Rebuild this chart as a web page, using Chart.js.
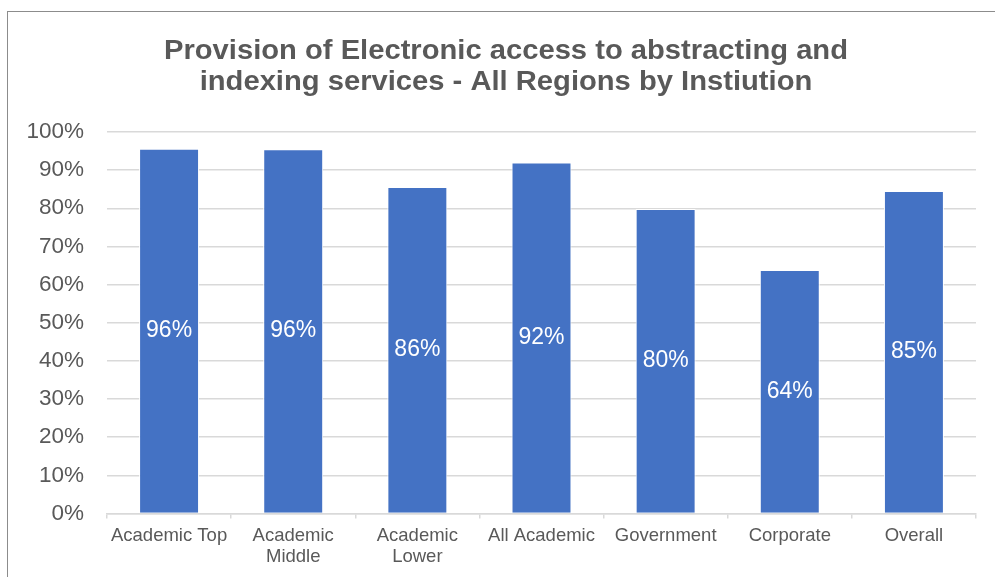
<!DOCTYPE html>
<html>
<head>
<meta charset="utf-8">
<script src="https://cdn.jsdelivr.net/npm/chart.js@4"></script>
<style>
  html, body { margin: 0; padding: 0; background: #fff; }
  #wrap { width: 995px; height: 577px; position: relative; }
</style>
</head>
<body>
<div id="wrap"><canvas id="c" width="995" height="577"></canvas></div>
<script>
const titleLines = ['Provision of Electronic access to abstracting and', 'indexing services - All Regions by Instiution'];
const categories = ['Academic Top', ['Academic', 'Middle'], ['Academic', 'Lower'], 'All Academic', 'Government', 'Corporate', 'Overall'];
const values = [95.6, 95.5, 85.6, 92.0, 79.8, 63.8, 84.5];
const yTicks = [0, 10, 20, 30, 40, 50, 60, 70, 80, 90, 100];

const FONT = '"Liberation Sans", Arial, sans-serif';
const GREY = '#595959';

const framePlugin = {
  id: 'frame',
  beforeDraw(chart) {
    const ctx = chart.ctx;
    ctx.save();
    ctx.fillStyle = '#fff';
    ctx.fillRect(0, 0, chart.width, chart.height);
    ctx.strokeStyle = '#8c8c8c';
    ctx.lineWidth = 1;
    ctx.strokeRect(7.5, 11.5, 1200, 1000);
    ctx.restore();
  }
};

const titlePlugin = {
  id: 'stretchedTitle',
  afterDraw(chart) {
    const ctx = chart.ctx;
    ctx.save();
    ctx.fillStyle = GREY;
    ctx.font = 'bold 27.5px ' + FONT;
    ctx.textAlign = 'center';
    ctx.textBaseline = 'alphabetic';
    const sx = 684 / ctx.measureText(titleLines[0]).width;
    const ys = [59, 90];
    titleLines.forEach((line, i) => {
      ctx.save();
      ctx.translate(506, ys[i]);
      ctx.scale(sx, 1);
      ctx.fillText(line, 0, 0);
      ctx.restore();
    });
    ctx.restore();
  }
};

const labelPlugin = {
  id: 'barLabels',
  afterDatasetsDraw(chart) {
    const ctx = chart.ctx;
    const meta = chart.getDatasetMeta(0);
    ctx.save();
    ctx.fillStyle = '#fff';
    ctx.font = '23px ' + FONT;
    ctx.textAlign = 'center';
    ctx.textBaseline = 'middle';
    meta.data.forEach((bar, i) => {
      const y = (bar.y + bar.base) / 2;
      ctx.fillText(Math.round(values[i]) + '%', bar.x, y);
    });
    ctx.restore();
  }
};

new Chart(document.getElementById('c'), {
  type: 'bar',
  data: {
    labels: categories,
    datasets: [{
      data: values,
      backgroundColor: '#4472C4',
      borderColor: '#ffffff',
      borderWidth: 1,
      categoryPercentage: 1,
      barPercentage: 0.483
    }]
  },
  options: {
    responsive: false,
    animation: false,
    devicePixelRatio: 1,
    layout: { padding: { left: 8, right: 19, top: 132, bottom: 2 } },
    plugins: {
      legend: { display: false },
      tooltip: { enabled: false },
      title: { display: false }
    },
    scales: {
      x: {
        grid: { offset: true, drawOnChartArea: false, drawTicks: true, tickLength: 5, color: '#d9d9d9', lineWidth: 1.5 },
        border: { display: true, color: '#d9d9d9', width: 1.5 },
        ticks: {
          color: GREY,
          font: { family: FONT, size: 18.5, lineHeight: 1.15 },
          maxRotation: 0, minRotation: 0, autoSkip: false, padding: 7
        }
      },
      y: {
        min: 0, max: 100,
        afterBuildTicks(scale) { scale.ticks = yTicks.map(v => ({ value: v })); },
        afterFit(scale) { scale.width = 99; },
        grid: { color: '#d9d9d9', lineWidth: 1.5, drawTicks: false },
        border: { display: false },
        ticks: {
          color: GREY,
          font: { family: FONT, size: 22.5 },
          padding: 23,
          callback: v => v + '%'
        }
      }
    }
  },
  plugins: [framePlugin, titlePlugin, labelPlugin]
});
</script>
</body>
</html>
